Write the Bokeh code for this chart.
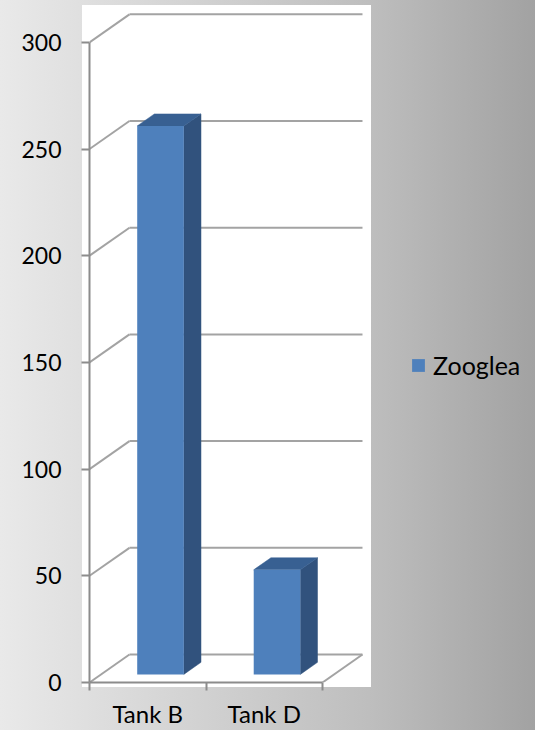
from bokeh.plotting import figure
from bokeh.models import Range1d, FixedTicker, Legend, LegendItem
from bokeh.embed import file_html
from bokeh.resources import INLINE

# ---- data ----
categories = ["Tank B", "Tank D"]
values = [257, 49]
series_name = "Zooglea"
y_ticks = [0, 50, 100, 150, 200, 250, 300]

# ---- 3D geometry (data units) ----
DX = 0.343      # depth offset along x
DY = 13.12      # depth offset along y
F0, F1 = 0.29, 0.72   # bar depth (fraction of full depth)
HALF_W = 0.2
CENTER_OFF = 0.51
n = len(categories)

FRONT = "#4E80BC"
SIDE = "#31527D"
TOP = "#386092"
GRID = "#a3a3a3"
AXIS = "#8c8c8c"

p = figure(width=535, height=730,
           x_range=Range1d(0, 3.828), y_range=Range1d(0, 319.6),
           output_backend="svg", toolbar_location=None, title=None,
           min_border_left=89, min_border_right=0,
           min_border_top=0, min_border_bottom=48)

p.background_fill_color = None
p.border_fill_color = None
p.outline_line_color = None
p.xgrid.visible = False
p.ygrid.visible = False
p.styles = {
    "background": "linear-gradient(#ffffff, #ffffff) 82px 5px / 289px 682px no-repeat, "
                  "linear-gradient(to right, #e9e9e9 0%, #bebebe 69%, #a2a2a2 100%)"
}

# ---- back wall grid + floor ----
gx0, gy0, gx1, gy1 = [], [], [], []
for v in y_ticks:
    gx0.append(0); gy0.append(v); gx1.append(DX); gy1.append(v + DY)
    gx0.append(DX); gy0.append(v + DY); gx1.append(n + DX); gy1.append(v + DY)
gx0.append(n); gy0.append(0); gx1.append(n + DX); gy1.append(DY)
p.segment(gx0, gy0, gx1, gy1, line_color=GRID, line_width=2)

# ---- 3D bars ----
side_xs, side_ys, top_xs, top_ys = [], [], [], []
lefts, rights, bottoms, tops = [], [], [], []
for i, v in enumerate(values):
    c = i + CENTER_OFF
    l0 = c - HALF_W + F0 * DX
    r0 = c + HALF_W + F0 * DX
    l1 = c - HALF_W + F1 * DX
    r1 = c + HALF_W + F1 * DX
    b0, b1 = F0 * DY, F1 * DY
    lefts.append(l0); rights.append(r0); bottoms.append(b0); tops.append(v + b0)
    side_xs.append([r0, r1, r1, r0]); side_ys.append([b0, b1, v + b1, v + b0])
    top_xs.append([l0, r0, r1, l1]); top_ys.append([v + b0, v + b0, v + b1, v + b1])

p.patches(side_xs, side_ys, fill_color=SIDE, line_color=SIDE, line_width=0.5)
p.patches(top_xs, top_ys, fill_color=TOP, line_color=TOP, line_width=0.5)
front = p.quad(left=lefts, right=rights, bottom=bottoms, top=tops,
               fill_color=FRONT, line_color=None)

# ---- axes ----
ya = p.yaxis[0]
ya.ticker = FixedTicker(ticks=y_ticks)
ya.bounds = (0, 300)
ya.axis_line_color = AXIS
ya.axis_line_width = 2
ya.major_tick_line_color = AXIS
ya.major_tick_line_width = 2
ya.major_tick_out = 8
ya.major_tick_in = 0
ya.minor_tick_line_color = None
ya.major_label_standoff = 20
ya.major_label_text_font = "Lato"
ya.major_label_text_font_size = "23px"
ya.major_label_text_color = "#000000"

xa = p.xaxis[0]
centers = [i + 0.5 for i in range(n)]
xa.ticker = FixedTicker(ticks=centers, minor_ticks=list(range(n + 1)))
xa.major_label_overrides = {c: lab for c, lab in zip(centers, categories)}
xa.bounds = (0, n)
xa.axis_line_color = AXIS
xa.axis_line_width = 2
xa.major_tick_line_color = None
xa.major_tick_out = 8
xa.major_tick_in = 0
xa.minor_tick_line_color = AXIS
xa.minor_tick_line_width = 2
xa.minor_tick_out = 8
xa.minor_tick_in = 0
xa.major_label_standoff = 8
xa.major_label_text_font = "Lato"
xa.major_label_text_font_size = "24px"
xa.major_label_text_color = "#000000"

# ---- legend ----
legend = Legend(items=[LegendItem(label=series_name, renderers=[front])],
                location=(321, 302), orientation="vertical",
                glyph_width=16, glyph_height=16, label_standoff=7,
                padding=0, margin=0, spacing=0,
                border_line_color=None, background_fill_alpha=0,
                label_text_font="Lato", label_text_font_size="25px",
                label_text_color="#000000")
p.add_layout(legend)

open("out.html", "w").write(file_html(p, INLINE))
